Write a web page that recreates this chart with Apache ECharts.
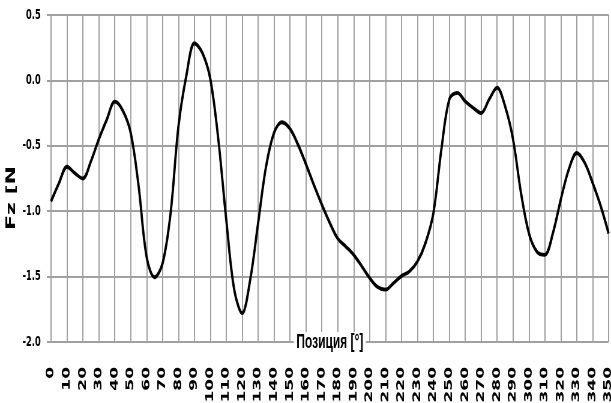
<!DOCTYPE html>
<html>
<head>
<meta charset="utf-8">
<script src="https://cdn.jsdelivr.net/npm/echarts@6/dist/echarts.min.js"></script>
<style>
  html, body { margin: 0; padding: 0; background: #fff; overflow: hidden; }
  #wrap { width: 611px; height: 403px; overflow: hidden; }
  /* the chart is laid out wide and squeezed horizontally into the frame */
  #chart { width: 1018px; height: 403px; transform: scaleX(0.6002); transform-origin: 0 0; }
</style>
</head>
<body>
<div id="wrap"><div id="chart"></div></div>
<script>
// Angular position, degrees
const positions = [
  0, 5, 10, 15, 20, 25, 30, 35, 40, 45,
  50, 55, 60, 65, 70, 75, 80, 85, 90, 95,
  100, 105, 110, 115, 120, 125, 130, 135, 140, 145,
  150, 155, 160, 165, 170, 175, 180, 185, 190, 195,
  200, 205, 210, 215, 220, 225, 230, 235, 240, 245,
  250, 255, 260, 265, 270, 275, 280, 285, 290, 295,
  300, 305, 310, 315, 320, 325, 330, 335, 340, 345,
  350
];

// Force Fz, N
const fz = [
  -0.925, -0.785, -0.66, -0.71, -0.75, -0.62, -0.45, -0.30, -0.163, -0.23,
  -0.40, -0.81, -1.35, -1.505, -1.40, -1.02, -0.35, 0.04, 0.284, 0.21,
  0.01, -0.45, -1.066, -1.60, -1.78, -1.526, -1.09, -0.657, -0.40, -0.32,
  -0.37, -0.49, -0.64, -0.80, -0.95, -1.09, -1.21, -1.27, -1.334, -1.42,
  -1.51, -1.58, -1.60, -1.55, -1.495, -1.46, -1.385, -1.245, -1.015, -0.53,
  -0.146, -0.095, -0.16, -0.21, -0.25, -0.146, -0.056, -0.197, -0.45, -0.86,
  -1.17, -1.31, -1.334, -1.17, -0.91, -0.68, -0.555, -0.63, -0.785, -0.96,
  -1.17
];

// Axis ranges and titles
const xRange = { min: 0, max: 350, step: 10 };
const yRange = { min: -2.0, max: 0.5, step: 0.5 };
const xTitle = 'Позиция [°]';
const yTitle = 'Fz [N';

const gridGray = '#a0a0a0';
const boldFont = '"DejaVu Sans", "Liberation Sans", sans-serif';

const chart = echarts.init(document.getElementById('chart'), null, { renderer: 'canvas' });

chart.setOption({
  animation: false,
  backgroundColor: '#fff',
  grid: { left: 85, right: 4, top: 15, bottom: 61, containLabel: false, outerBoundsMode: 'none' },
  xAxis: {
    type: 'value',
    min: xRange.min,
    max: xRange.max,
    interval: xRange.step,
    name: xTitle,
    nameLocation: 'middle',
    nameGap: -10,
    nameMoveOverlap: false,
    nameTextStyle: {
      fontFamily: '"Liberation Sans", Arial, sans-serif',
      fontWeight: 'bold',
      fontSize: 20,
      color: '#000',
      backgroundColor: '#fff',
      padding: [0, 4, 0, 4]
    },
    axisLine: { show: true, lineStyle: { color: gridGray, width: 2 } },
    axisTick: { show: true, length: 8, lineStyle: { color: gridGray, width: 2 } },
    splitLine: { show: true, lineStyle: { color: gridGray, width: 2 } },
    axisLabel: {
      rotate: 90,
      margin: 25,
      fontFamily: boldFont,
      fontWeight: 'bold',
      fontSize: 17,
      color: '#000',
      hideOverlap: false,
      showMinLabel: true,
      showMaxLabel: true
    }
  },
  yAxis: {
    type: 'value',
    min: yRange.min,
    max: yRange.max,
    interval: yRange.step,
    axisLine: { show: true, lineStyle: { color: gridGray, width: 2 } },
    axisTick: { show: true, length: 7, lineStyle: { color: gridGray, width: 2 } },
    splitLine: { show: true, lineStyle: { color: gridGray, width: 2 } },
    axisLabel: {
      margin: 17,
      fontFamily: boldFont,
      fontWeight: 'bold',
      fontSize: 14,
      color: '#000',
      formatter: v => v.toFixed(1)
    }
  },
  graphic: [{
    type: 'text',
    left: 8,
    top: 166,
    rotation: Math.PI / 2,
    style: {
      text: yTitle,
      fontFamily: boldFont,
      fontWeight: 'bold',
      fontSize: 22,
      fill: '#000'
    }
  }],
  series: [{
    type: 'line',
    data: positions.map((p, i) => [p, fz[i]]),
    smooth: 0.35,
    showSymbol: false,
    symbol: 'none',
    lineStyle: { color: '#000', width: 3.8 },
    z: 3
  }]
});
</script>
</body>
</html>
